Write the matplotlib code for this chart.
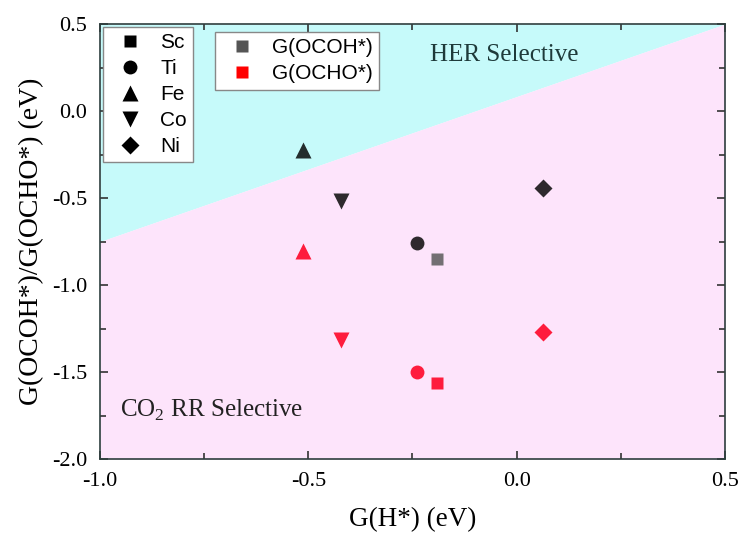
import matplotlib
matplotlib.use("Agg")
import matplotlib.pyplot as plt
from matplotlib.lines import Line2D
from matplotlib.ticker import MultipleLocator

# ---- data ----
metals = ["Sc", "Ti", "Fe", "Co", "Ni"]
markers = ["s", "o", "^", "v", "D"]
g_h = [-0.19, -0.24, -0.513, -0.422, 0.064]
g_ocoh = [-0.85, -0.757, -0.224, -0.515, -0.444]
g_ocho = [-1.565, -1.498, -0.805, -1.316, -1.268]
boundary_x = [-1.0, 0.5]
boundary_y = [-0.75, 0.5]
x_ticks = [-1.0, -0.5, 0.0, 0.5]
y_ticks = [-2.0, -1.5, -1.0, -0.5, 0.0, 0.5]

plt.rcParams['mathtext.fontset'] = 'custom'
plt.rcParams['mathtext.rm'] = 'Liberation Serif'

fig = plt.figure(figsize=(7.39, 5.35), dpi=100)
ax = fig.add_axes([0.1353, 0.142, 0.8457, 0.813])

cyan = "#c6fafa"
pink = "#fde4fb"
ax.fill_between(boundary_x, boundary_y, [0.5, 0.5], color=cyan, lw=0, zorder=0)
ax.fill_between(boundary_x, [-2.0, -2.0], boundary_y, color=pink, lw=0, zorder=0)

sizes = {"s": 9, "o": 10, "^": 12, "v": 12, "D": 9}
for i, m in enumerate(markers):
    dark = "#555555" if m == "s" else "black"
    ax.plot(g_h[i], g_ocoh[i], ls="none", marker=m, ms=sizes[m], color=dark,
            alpha=0.82, mec="none", zorder=3)
    ax.plot(g_h[i], g_ocho[i], ls="none", marker=m, ms=sizes[m], color="#ff0022",
            alpha=0.88, mec="none", zorder=3)

ax.set_xlim(-1.0, 0.5)
ax.set_ylim(-2.0, 0.5)
ax.set_xticks(x_ticks)
ax.set_yticks(y_ticks)
ax.set_xticklabels([f"{v:.1f}" for v in x_ticks])
ax.set_yticklabels([f"{v:.1f}" for v in y_ticks])
ax.xaxis.set_minor_locator(MultipleLocator(0.25))
ax.yaxis.set_minor_locator(MultipleLocator(0.25))
ax.tick_params(which="both", direction="in", top=True, right=True,
               color="#333333", width=1.2)
ax.tick_params(which="major", length=6, labelsize=16)
ax.tick_params(axis="x", which="major", pad=9)
ax.tick_params(axis="y", which="major", pad=9)
ax.tick_params(which="minor", length=4)
for lab in ax.get_xticklabels() + ax.get_yticklabels():
    lab.set_fontfamily("Liberation Serif")
for s in ax.spines.values():
    s.set_color("#2e3e3e")
    s.set_linewidth(1.2)

ax.set_xlabel("G(H*) (eV)", fontsize=19.5, family="Liberation Serif", labelpad=12)
ax.set_ylabel("G(OCOH*)/G(OCHO*) (eV)", fontsize=20, family="Liberation Serif", labelpad=6)

ax.text(-0.208, 0.32, "HER Selective", fontsize=18, family="Liberation Serif",
        color="#1e3a3a", va="center", ha="left", zorder=4)
ax.text(-0.952, -1.718, r"CO$_\mathregular{2}$ RR Selective", fontsize=18,
        family="Liberation Serif", color="#222222", va="center", ha="left", zorder=4)

h1 = [Line2D([], [], ls="none", marker=m, ms=sizes[m], color="black", mec="none")
      for m in markers]
leg1 = ax.legend(h1, metals, loc="upper left", bbox_to_anchor=(0.005, 0.993),
                 prop={"family": "Liberation Sans", "size": 15}, frameon=True,
                 fancybox=False, edgecolor="#888888", framealpha=1,
                 labelspacing=0.33, handletextpad=0.45, borderpad=0.3,
                 handlelength=2.0, borderaxespad=0)
leg1.get_frame().set_linewidth(1.0)
ax.add_artist(leg1)

h2 = [Line2D([], [], ls="none", marker="s", ms=9, color="#555555", mec="none"),
      Line2D([], [], ls="none", marker="s", ms=9, color="#ff0000", mec="none")]
leg2 = ax.legend(h2, ["G(OCOH*)", "G(OCHO*)"], loc="upper left",
                 bbox_to_anchor=(0.184, 0.982),
                 prop={"family": "Liberation Sans", "size": 15}, frameon=True,
                 fancybox=False, edgecolor="#888888", framealpha=1,
                 labelspacing=0.35, handletextpad=0.43, borderpad=0.3,
                 handlelength=2.0, borderaxespad=0)
leg2.get_frame().set_linewidth(1.0)

fig.savefig("out.png", dpi=100)
